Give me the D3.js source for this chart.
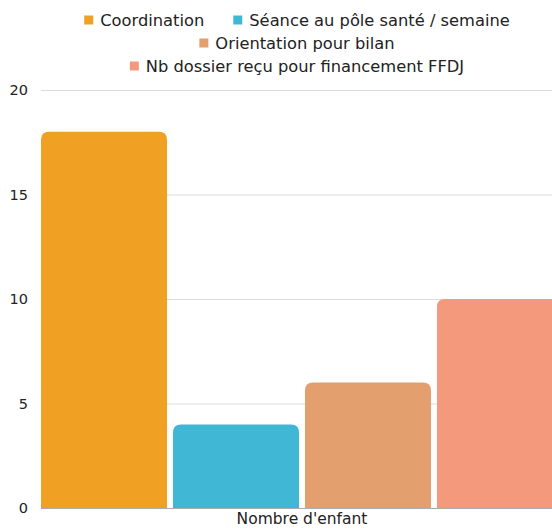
<!DOCTYPE html>
<html><head><meta charset="utf-8">
<script src="https://cdn.jsdelivr.net/npm/d3@7"></script>
<style>body{margin:0;background:#fff}svg{display:block}text{font-family:"DejaVu Sans",sans-serif}</style>
</head><body><svg id="c" width="552" height="530"></svg>
<script>
const categories = ["Nombre d'enfant"];
const seriesNames = ["Coordination","Séance au pôle santé / semaine","Orientation pour bilan","Nb dossier reçu pour financement FFDJ"];
const seriesValues = [18,4,6,10];
const seriesColors = ["#F0A124","#41B7D6","#E3A06E","#F4997C"];
const yTicks = [0,5,10,15,20];
const legendRows = [[0,1],[2],[3]];

(function(){
const svg = d3.select("#c");
const mL = 41, mR = 563, mT = 90, mB = 508;
const y = d3.scaleLinear().domain([0,20]).range([mB, mT]);
const x0 = d3.scaleBand().domain(categories).range([mL, mR]).padding(0);
const x1 = d3.scaleBand().domain(seriesNames).range([0, x0.bandwidth()]).paddingInner(0.045).paddingOuter(0);

const yAxis = d3.axisLeft(y).tickValues(yTicks).tickSize(-(552-mL)).tickPadding(13);
const ga = svg.append("g").attr("transform",`translate(${mL},0)`).call(yAxis);
ga.select(".domain").remove();
ga.selectAll(".tick line").attr("stroke","#dcdcdc").attr("stroke-width",1);
ga.selectAll(".tick text").attr("fill","#222").attr("font-size",14.5).attr("font-family","DejaVu Sans");

const r = 8;
function barPath(x, w, yTop, yBot){
  const rr = Math.min(r, (yBot-yTop), w/2);
  return `M${x},${yBot}V${yTop+rr}Q${x},${yTop} ${x+rr},${yTop}H${x+w-rr}Q${x+w},${yTop} ${x+w},${yTop+rr}V${yBot}Z`;
}
const g = svg.append("g");
categories.forEach(cat=>{
  seriesNames.forEach((s,i)=>{
    const bx = x0(cat)+x1(s);
    g.append("path").attr("d", barPath(bx, x1.bandwidth(), y(seriesValues[i]), y(0)))
      .attr("fill", seriesColors[i]);
  });
});
svg.append("line").attr("x1",mL).attr("x2",552).attr("y1",y(0)+0.5).attr("y2",y(0)+0.5).attr("stroke","#aaa").attr("stroke-width",1);

const xAxis = d3.axisBottom(x0).tickSize(0).tickPadding(5);
const gx = svg.append("g").attr("transform",`translate(0,${mB})`).call(xAxis);
gx.select(".domain").remove();
gx.selectAll(".tick text").attr("fill","#222").attr("font-size",15.5).attr("font-family","DejaVu Sans");

const legendCenter = 297, rowY = [20,43,66], fs = 16.3;
legendRows.forEach((row,ri)=>{
  const lg = svg.append("g");
  let cx = 0;
  row.forEach((si,k)=>{
    if(k>0) cx += 29;
    lg.append("rect").attr("x",cx).attr("y",rowY[ri]-4.5).attr("width",9).attr("height",9).attr("fill",seriesColors[si]);
    const t = lg.append("text").attr("x",cx+16).attr("y",rowY[ri]).attr("dy","0.35em").attr("font-size",fs).attr("fill","#222").text(seriesNames[si]);
    cx += 16 + t.node().getComputedTextLength();
  });
  lg.attr("transform",`translate(${legendCenter-cx/2},0)`);
});
})();
</script></body></html>
